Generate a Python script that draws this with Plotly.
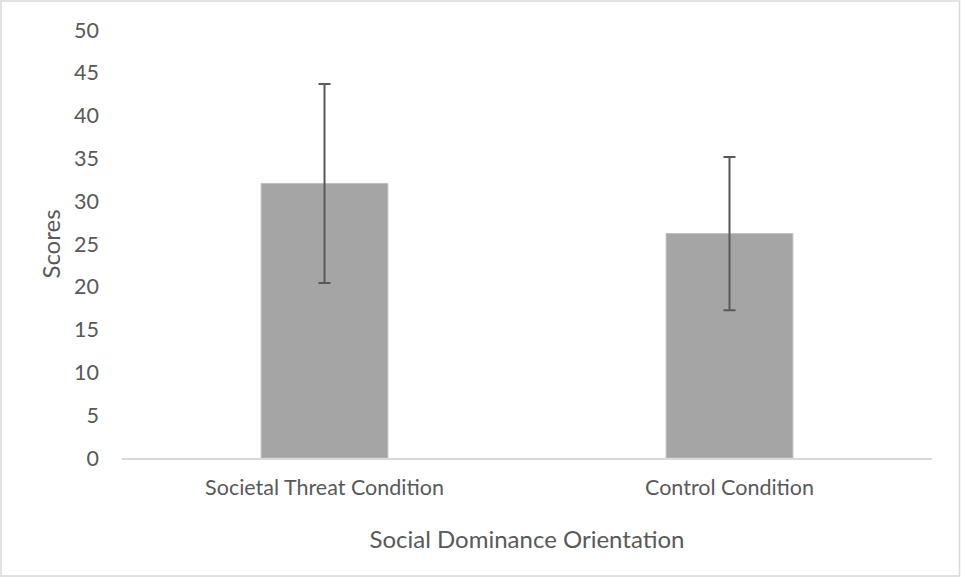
import plotly.graph_objects as go

categories = ["Societal Threat Condition", "Control Condition"]
means = [32.07, 26.22]
errors = [11.62, 8.95]
y_ticks = [0, 5, 10, 15, 20, 25, 30, 35, 40, 45, 50]

W, H = 961, 578
ml, mr, mt, mb = 122, 29, 30, 120
pw, ph = W - ml - mr, H - mt - mb

fig = go.Figure()
fig.add_trace(go.Bar(
    x=categories, y=means,
    marker=dict(color="#a5a5a5", line=dict(color="#bfbfbf", width=1)),
    error_y=dict(type="data", array=errors, visible=True,
                 color="#595959", thickness=2, width=6),
    showlegend=False,
))

font = "Lato, 'Open Sans', sans-serif"
fig.update_layout(
    width=W, height=H,
    margin=dict(l=ml, r=mr, t=mt, b=mb),
    paper_bgcolor="white", plot_bgcolor="white",
    bargap=0.687,
    font=dict(family=font, size=21.5, color="#595959"),
    xaxis=dict(showline=True, linecolor="#d9d9d9", linewidth=2,
               ticks="", showgrid=False, ticklabelstandoff=9,
               title=dict(text="Social Dominance Orientation", standoff=32,
                          font=dict(size=24, color="#595959"))),
    yaxis=dict(range=[0, 50], tickvals=y_ticks, showgrid=False,
               showline=False, zeroline=False, ticks="",
               ticklabelstandoff=22,
               title=dict(text="Scores", standoff=6,
                          font=dict(size=24, color="#595959"))),
)

fig.add_shape(type="rect", xref="paper", yref="paper",
              x0=(1 - ml) / pw, x1=(W - 1.5 - ml) / pw,
              y0=-(H - 2 - mt - ph) / ph, y1=(ph + mt - 1) / ph,
              line=dict(color="#d9d9d9", width=1.5), layer="below")

fig.write_html("out.html", config={"displayModeBar": False},
               post_script="document.body.style.margin='0';document.body.style.overflow='hidden';")
